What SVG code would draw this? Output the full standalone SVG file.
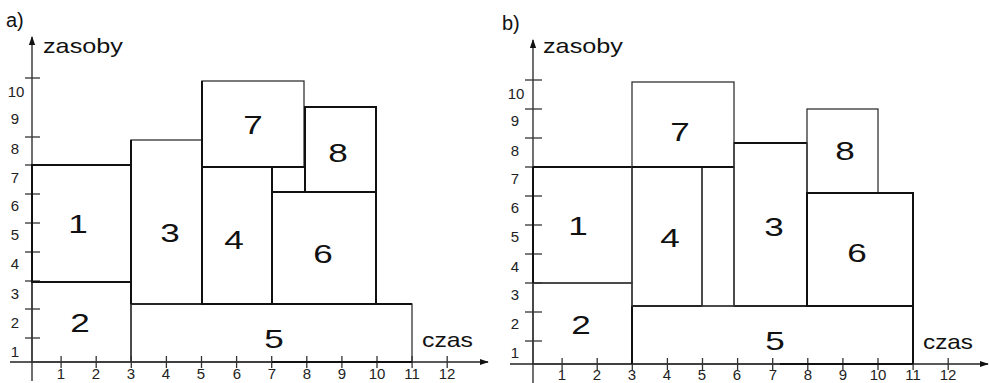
<svg xmlns="http://www.w3.org/2000/svg" width="989" height="383" viewBox="0 0 989 383">
  <defs>
    <marker id="arrow" viewBox="0 0 10 10" refX="9" refY="5" markerWidth="9" markerHeight="9" markerUnits="userSpaceOnUse" orient="auto">
      <path d="M0,1.5 L10,5 L0,8.5 Z" fill="#111"/>
    </marker>
  </defs>
  <style>
    .axis { stroke: #222; stroke-width: 1.3; fill: none; }
    .tick { stroke: #333; stroke-width: 1.3; }
    .thick { stroke: #111; stroke-width: 2; fill: none; }
    .thin { stroke: #333; stroke-width: 1.3; fill: none; }
    .num { font-family: "Liberation Sans", Arial, sans-serif; font-size: 15px; fill: #222; text-anchor: middle; }
    .big { font-family: "Liberation Sans", Arial, sans-serif; font-size: 26px; fill: #111; text-anchor: middle; }
    .title { font-family: "Liberation Sans", Arial, sans-serif; font-size: 20px; fill: #111; }
    .axlabel { font-family: "Liberation Sans", Arial, sans-serif; font-size: 21px; fill: #111; }
  </style>
  <rect width="989" height="383" fill="#fff"/>

  <!-- Panel a -->
  <g id="panel-a">
    <text class="title" x="6" y="27">a)</text>
    <g id="axes-a">
      <line class="axis" x1="32" y1="381" x2="32" y2="37" marker-end="url(#arrow)"/>
      <line class="axis" x1="10" y1="362" x2="488" y2="362" marker-end="url(#arrow)"/>
      <text class="axlabel" x="43" y="53" textLength="80" lengthAdjust="spacingAndGlyphs">zasoby</text>
      <text class="axlabel" x="422" y="347" textLength="51" lengthAdjust="spacingAndGlyphs">czas</text>
      <!-- y ticks -->
      <g class="tick">
        <line x1="25" y1="338" x2="40" y2="338"/>
        <line x1="25" y1="309" x2="40" y2="309"/>
        <line x1="25" y1="281" x2="40" y2="281"/>
        <line x1="25" y1="252" x2="40" y2="252"/>
        <line x1="25" y1="223" x2="40" y2="223"/>
        <line x1="25" y1="194" x2="40" y2="194"/>
        <line x1="25" y1="165" x2="40" y2="165"/>
        <line x1="25" y1="137" x2="40" y2="137"/>
        <line x1="25" y1="78" x2="40" y2="78"/>
      </g>
      <g class="num">
        <text x="15" y="357">1</text>
        <text x="15" y="328">2</text>
        <text x="15" y="299">3</text>
        <text x="15" y="269">4</text>
        <text x="15" y="240">5</text>
        <text x="15" y="211">6</text>
        <text x="15" y="183">7</text>
        <text x="15" y="154">8</text>
        <text x="15" y="124">9</text>
        <text x="16" y="97">10</text>
      </g>
      <!-- x ticks -->
      <g class="tick">
        <line x1="61.1" y1="356" x2="61.1" y2="368"/>
        <line x1="96.2" y1="356" x2="96.2" y2="368"/>
        <line x1="131.3" y1="356" x2="131.3" y2="368"/>
        <line x1="166.4" y1="356" x2="166.4" y2="368"/>
        <line x1="201.5" y1="356" x2="201.5" y2="368"/>
        <line x1="236.6" y1="356" x2="236.6" y2="368"/>
        <line x1="271.7" y1="356" x2="271.7" y2="368"/>
        <line x1="306.8" y1="356" x2="306.8" y2="368"/>
        <line x1="341.9" y1="356" x2="341.9" y2="368"/>
        <line x1="377" y1="356" x2="377" y2="368"/>
        <line x1="412.1" y1="356" x2="412.1" y2="368"/>
        <line x1="447.2" y1="356" x2="447.2" y2="368"/>
      </g>
      <g class="num">
        <text x="61" y="379">1</text>
        <text x="96" y="379">2</text>
        <text x="131" y="379">3</text>
        <text x="166" y="379">4</text>
        <text x="201" y="379">5</text>
        <text x="237" y="379">6</text>
        <text x="272" y="379">7</text>
        <text x="307" y="379">8</text>
        <text x="342" y="379">9</text>
        <text x="377" y="379">10</text>
        <text x="412" y="379">11</text>
        <text x="447" y="379">12</text>
      </g>
    </g>

    <g id="a-task2">
      <rect class="thin" x="32" y="282" width="99" height="80"/>
      <text class="big" transform="translate(80,332) scale(1.35,1)">2</text>
    </g>
    <g id="a-task1">
      <rect class="thick" x="32" y="165" width="99" height="117"/>
      <text class="big" transform="translate(78,233) scale(1.35,1)">1</text>
    </g>
    <g id="a-task5">
      <rect class="thin" x="131" y="304" width="281" height="58"/>
      <line class="thick" x1="131" y1="304" x2="412" y2="304"/>
      <line class="thick" x1="272" y1="362" x2="412" y2="362"/>
      <text class="big" transform="translate(274,348) scale(1.35,1)">5</text>
    </g>
    <g id="a-task3">
      <rect class="thin" x="131" y="140" width="71" height="164"/>
      <line class="thick" x1="131" y1="140" x2="131" y2="304"/>
      <text class="big" transform="translate(170,242) scale(1.35,1)">3</text>
    </g>
    <g id="a-task4">
      <rect class="thick" x="202" y="167" width="70" height="137"/>
      <text class="big" transform="translate(234,249) scale(1.35,1)">4</text>
    </g>
    <g id="a-task7">
      <rect class="thin" x="202" y="81" width="102" height="86"/>
      <line class="thick" x1="202" y1="81" x2="202" y2="167"/>
      <line class="thick" x1="202" y1="167" x2="305" y2="167"/>
      <text class="big" transform="translate(253,134) scale(1.35,1)">7</text>
    </g>
    <g id="a-task8">
      <rect class="thick" x="305" y="107" width="71" height="85"/>
      <text class="big" transform="translate(338,162) scale(1.35,1)">8</text>
    </g>
    <g id="a-task6">
      <rect class="thick" x="272" y="192" width="104" height="112"/>
      <text class="big" transform="translate(323,263) scale(1.35,1)">6</text>
    </g>
  </g>

  <!-- Panel b -->
  <g id="panel-b">
    <text class="title" x="502" y="30">b)</text>
    <g id="axes-b">
      <line class="axis" x1="533" y1="383" x2="533" y2="40" marker-end="url(#arrow)"/>
      <line class="axis" x1="510" y1="364" x2="988" y2="364" marker-end="url(#arrow)"/>
      <text class="axlabel" x="543" y="53" textLength="80" lengthAdjust="spacingAndGlyphs">zasoby</text>
      <text class="axlabel" x="923" y="349" textLength="50" lengthAdjust="spacingAndGlyphs">czas</text>
      <g class="tick">
        <line x1="525" y1="341" x2="542" y2="341"/>
        <line x1="525" y1="312" x2="542" y2="312"/>
        <line x1="525" y1="283" x2="542" y2="283"/>
        <line x1="525" y1="254" x2="542" y2="254"/>
        <line x1="525" y1="225" x2="542" y2="225"/>
        <line x1="525" y1="196" x2="542" y2="196"/>
        <line x1="525" y1="167" x2="542" y2="167"/>
        <line x1="525" y1="138" x2="542" y2="138"/>
        <line x1="525" y1="109" x2="542" y2="109"/>
        <line x1="525" y1="80" x2="542" y2="80"/>
      </g>
      <g class="num">
        <text x="515" y="358">1</text>
        <text x="515" y="329">2</text>
        <text x="515" y="300">3</text>
        <text x="515" y="272">4</text>
        <text x="515" y="242">5</text>
        <text x="515" y="213">6</text>
        <text x="515" y="184">7</text>
        <text x="515" y="156">8</text>
        <text x="515" y="126">9</text>
        <text x="516" y="99">10</text>
      </g>
      <g class="tick">
        <line x1="562.1" y1="358" x2="562.1" y2="370"/>
        <line x1="597.2" y1="358" x2="597.2" y2="370"/>
        <line x1="632.3" y1="358" x2="632.3" y2="370"/>
        <line x1="667.4" y1="358" x2="667.4" y2="370"/>
        <line x1="702.5" y1="358" x2="702.5" y2="370"/>
        <line x1="737.6" y1="358" x2="737.6" y2="370"/>
        <line x1="772.7" y1="358" x2="772.7" y2="370"/>
        <line x1="807.8" y1="358" x2="807.8" y2="370"/>
        <line x1="842.9" y1="358" x2="842.9" y2="370"/>
        <line x1="878" y1="358" x2="878" y2="370"/>
        <line x1="913.1" y1="358" x2="913.1" y2="370"/>
        <line x1="948.2" y1="358" x2="948.2" y2="370"/>
      </g>
      <g class="num">
        <text x="562" y="380">1</text>
        <text x="597" y="380">2</text>
        <text x="632" y="380">3</text>
        <text x="667" y="380">4</text>
        <text x="702" y="380">5</text>
        <text x="737" y="380">6</text>
        <text x="773" y="380">7</text>
        <text x="808" y="380">8</text>
        <text x="843" y="380">9</text>
        <text x="878" y="380">10</text>
        <text x="913" y="380">11</text>
        <text x="948" y="380">12</text>
      </g>
    </g>

    <g id="b-task2">
      <rect class="thin" x="533" y="283" width="99" height="81"/>
      <text class="big" transform="translate(581,334) scale(1.35,1)">2</text>
    </g>
    <g id="b-task1">
      <rect class="thin" x="533" y="167" width="99" height="116"/>
      <line class="thick" x1="533" y1="167" x2="632" y2="167"/>
      <line class="thick" x1="533" y1="167" x2="533" y2="283"/>
      <text class="big" transform="translate(578,235) scale(1.35,1)">1</text>
    </g>
    <g id="b-task5">
      <rect class="thin" x="632" y="306" width="281" height="58"/>
      <line class="thick" x1="632" y1="306" x2="702" y2="306"/>
      <line class="thick" x1="734" y1="306" x2="913" y2="306"/>
      <line class="thick" x1="632" y1="306" x2="632" y2="364"/>
      <line class="thick" x1="913" y1="306" x2="913" y2="364"/>
      <line class="thick" x1="780" y1="364" x2="913" y2="364"/>
      <text class="big" transform="translate(775,350) scale(1.35,1)">5</text>
    </g>
    <g id="b-task4">
      <rect class="thin" x="632" y="167" width="70" height="139"/>
      <text class="big" transform="translate(670,247) scale(1.35,1)">4</text>
    </g>
    <g id="b-gap">
      <rect class="thin" x="702" y="167" width="32" height="139"/>
    </g>
    <g id="b-task7">
      <rect class="thin" x="632" y="82" width="102" height="85"/>
      <line class="thick" x1="632" y1="167" x2="734" y2="167"/>
      <text class="big" transform="translate(680,141) scale(1.35,1)">7</text>
    </g>
    <g id="b-task3">
      <rect class="thin" x="734" y="143" width="73" height="163"/>
      <line class="thick" x1="734" y1="143" x2="807" y2="143"/>
      <text class="big" transform="translate(774,236) scale(1.35,1)">3</text>
    </g>
    <g id="b-task8">
      <rect class="thin" x="807" y="109" width="71" height="84"/>
      <text class="big" transform="translate(845,160) scale(1.35,1)">8</text>
    </g>
    <g id="b-task6">
      <rect class="thick" x="807" y="193" width="106" height="113"/>
      <text class="big" transform="translate(857,262) scale(1.35,1)">6</text>
    </g>
  </g>
</svg>
